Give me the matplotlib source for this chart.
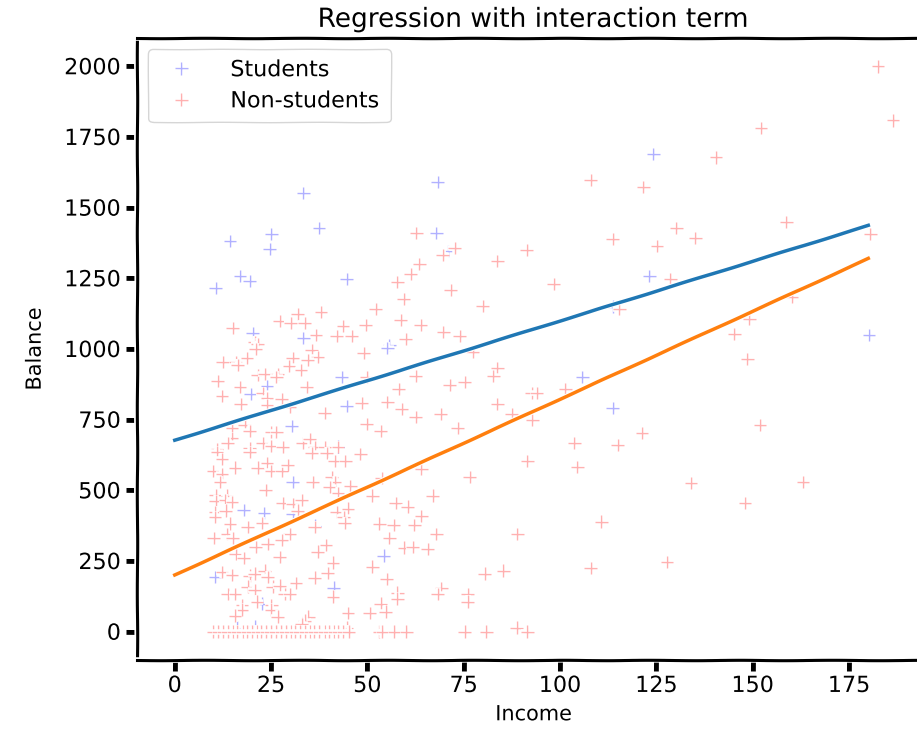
import numpy as np
import matplotlib.pyplot as plt

# students (income in $1000s, balance in $)
student_income = [10.6, 14.3, 16.9, 19.4, 25.1, 24.6, 33.4, 37.4, 44.6, 68.2, 67.9, 70.8, 124.2,
                  20.2, 33.4, 43.3, 23.9, 19.7, 44.6, 30.3, 55.7, 55.2, 123.2, 113.6, 105.8, 113.6,
                  180.2, 30.6, 17.9, 23.1, 30.6, 36.3, 10.4, 41.2, 22.6, 20.7, 16.1, 42.3, 54.2]
student_balance = [1215, 1382, 1258, 1240, 1406, 1353, 1551, 1428, 1247, 1590, 1410, 1346, 1689,
                   1056, 1039, 901, 869, 841, 799, 728, 1014, 1004, 1258, 1150, 901, 792,
                   1049, 530, 431, 420, 417, 375, 194, 156, 99, 21, 14, 655, 269]

# non-students
nonstudent_income = [
    107.9, 121.6, 140.5, 130.2, 135.1, 113.6, 125.2, 182.5, 186.4, 152.2, 158.7, 180.5, 62.7, 72.6,
    91.3, 98.3, 128.6, 115.4, 145.2, 101.4, 103.7, 114.9, 121.3, 160.2, 149.1, 148.6, 151.9, 104.5,
    134.0, 110.7, 107.9, 127.8, 163.1, 148.0,
    69.5, 83.7, 63.5, 61.2, 57.8, 71.6, 59.4, 79.9, 52.1, 58.6, 63.8, 49.5, 69.7, 73.9, 59.9, 49.0,
    77.3, 83.7, 82.7, 62.5, 49.8, 75.2, 71.3, 58.1, 92.6, 93.9, 48.5, 55.2, 83.7, 58.9, 62.5, 69.0,
    87.4, 92.8, 49.8, 53.4, 73.4,
    48.2, 91.5, 64.0, 76.5, 53.7, 51.3, 66.9, 57.3, 60.4, 64.0, 53.1, 56.8, 62.2, 67.9, 55.7, 88.9,
    59.6, 61.7, 65.6, 51.3, 55.0, 80.4, 85.3, 69.2, 68.2, 57.8, 57.8, 76.0, 76.0, 53.4, 50.6, 54.7,
    88.7, 91.5, 53.1, 53.9, 57.0, 60.1, 75.2, 80.9,
    31.9, 37.9, 27.2, 30.1, 33.7, 43.6, 15.0, 36.6, 42.0, 45.9, 20.7, 21.5, 21.0, 35.5, 37.1, 12.4,
    15.8, 16.3, 18.7, 30.6, 34.5, 29.6, 32.7, 21.5, 23.3, 26.7, 26.4, 11.1, 16.9, 34.2, 12.2, 22.8,
    23.9, 27.7, 17.1, 23.9, 38.9, 29.8, 18.1, 19.4, 14.8, 25.1, 26.4, 14.8, 13.7, 22.8, 25.1, 33.2,
    35.0, 28.0, 10.9, 19.4, 36.3, 38.9, 42.3,
    10.9, 19.4, 12.2, 15.6, 9.9, 12.2, 11.7, 21.5, 23.9, 25.1, 27.7, 29.3, 35.5, 39.4, 41.5, 44.3,
    35.8, 40.7, 41.5, 40.2, 42.3, 45.6, 23.6, 10.6, 13.5, 10.6, 13.0, 14.8, 28.0, 30.6, 32.9, 31.9,
    10.4, 10.4, 13.2, 42.0, 44.9, 43.8, 44.1, 14.3, 18.9, 22.6, 36.3, 10.1, 13.5, 15.0, 29.8, 27.7,
    21.0, 24.1, 27.2, 15.8, 17.9, 37.1, 39.2, 41.0, 12.2, 14.8, 19.4, 20.7, 23.3, 24.1, 36.3, 39.7,
    18.9, 20.7, 25.4, 27.2, 31.4, 28.5, 29.8, 13.7, 15.6, 17.4, 21.3, 25.1, 41.0, 17.4, 15.6, 25.1,
    26.7, 34.7, 33.7, 32.9, 44.9, 44.6,
    10.0, 11.2, 12.6, 13.7, 15.1, 16.2, 17.6, 18.7, 20.1, 21.3, 22.4, 23.8, 24.9, 26.2, 27.6, 28.8,
    30.1, 31.3, 32.4, 33.8, 35.1, 36.2, 37.4, 38.9, 40.1, 41.3, 42.4, 43.6, 45.1]
nonstudent_balance = [
    1597, 1573, 1678, 1428, 1393, 1389, 1364, 2000, 1809, 1781, 1449, 1406, 1410, 1357,
    1350, 1230, 1247, 1141, 1053, 859, 668, 661, 703, 1184, 1106, 965, 731, 583,
    526, 389, 226, 247, 530, 456,
    1332, 1311, 1300, 1265, 1237, 1208, 1177, 1152, 1141, 1102, 1085, 1085, 1060, 1046, 1035, 986,
    989, 933, 905, 905, 901, 883, 873, 859, 845, 845, 809, 813, 806, 788, 760, 770,
    770, 749, 735, 710, 721,
    629, 604, 576, 548, 544, 481, 481, 456, 442, 410, 382, 378, 378, 346, 332, 346,
    297, 300, 293, 230, 187, 205, 216, 155, 134, 138, 117, 134, 106, 99, 67, 71,
    14, 0, 0, 0, 0, 0, 0, 0,
    1124, 1131, 1099, 1092, 1092, 1081, 1074, 1049, 1046, 1046, 1025, 1018, 1000, 996, 972, 954,
    954, 943, 968, 968, 961, 940, 926, 908, 912, 912, 901, 887, 866, 866, 834, 845,
    827, 823, 806, 802, 774, 795, 731, 710, 721, 707, 707, 686, 668, 668, 657, 668,
    682, 654, 647, 650, 654, 654, 654,
    636, 636, 611, 580, 569, 558, 530, 580, 597, 569, 569, 590, 632, 632, 604, 604,
    530, 548, 530, 512, 491, 516, 502, 484, 481, 463, 466, 459, 456, 452, 466, 428,
    424, 406, 428, 424, 435, 406, 385, 382, 371, 385, 371, 332, 346, 332, 346, 325,
    300, 311, 265, 276, 261, 283, 307, 244, 212, 201, 198, 205, 216, 194, 191, 208,
    159, 148, 159, 163, 173, 134, 134, 134, 134, 95, 106, 95, 124, 78, 57, 78,
    53, 53, 39, 28, 67, 14,
    0, 0, 0, 0, 0, 0, 0, 0, 0, 0, 0, 0, 0, 0, 0, 0,
    0, 0, 0, 0, 0, 0, 0, 0, 0, 0, 0, 0, 0]

# balance ~ income + student + income:student
intercept = 200.62
coef_income = 6.2182
coef_student = 476.68
coef_interaction = -1.9992

plt.xkcd(scale=0.2)
plt.rcParams['font.family'] = ['DejaVu Sans']
plt.rcParams['axes.linewidth'] = 2.2

fig = plt.figure(figsize=(9.17, 7.32), dpi=100)
ax = fig.add_axes([0.1494, 0.0984, 0.8648, 0.8497])

ax.plot(student_income, student_balance, '+', color='blue', alpha=0.3, ms=9, label='Students')
ax.plot(nonstudent_income, nonstudent_balance, '+', color='red', alpha=0.3, ms=9, label='Non-students')

x = np.linspace(0, 180, 100)
ax.plot(x, intercept + coef_student + (coef_income + coef_interaction) * x, color='C0', lw=2.5)
ax.plot(x, intercept + coef_income * x, color='C1', lw=2.5)

ax.set_xlim(-9.8, 196)
ax.set_ylim(-100, 2100)
ax.set_xticks([0, 25, 50, 75, 100, 125, 150, 175])
ax.set_yticks([0, 250, 500, 750, 1000, 1250, 1500, 1750, 2000])
ax.tick_params(labelsize=16, width=3.5, length=8)
ax.set_xlabel('Income', fontsize=15, labelpad=6)
ax.set_ylabel('Balance', fontsize=15, labelpad=14)
ax.set_title('Regression with interaction term', fontsize=19, pad=8)
ax.legend(loc='upper left', fontsize=16, handletextpad=1.2, borderpad=0.5)

fig.savefig('out.png', dpi=100)
